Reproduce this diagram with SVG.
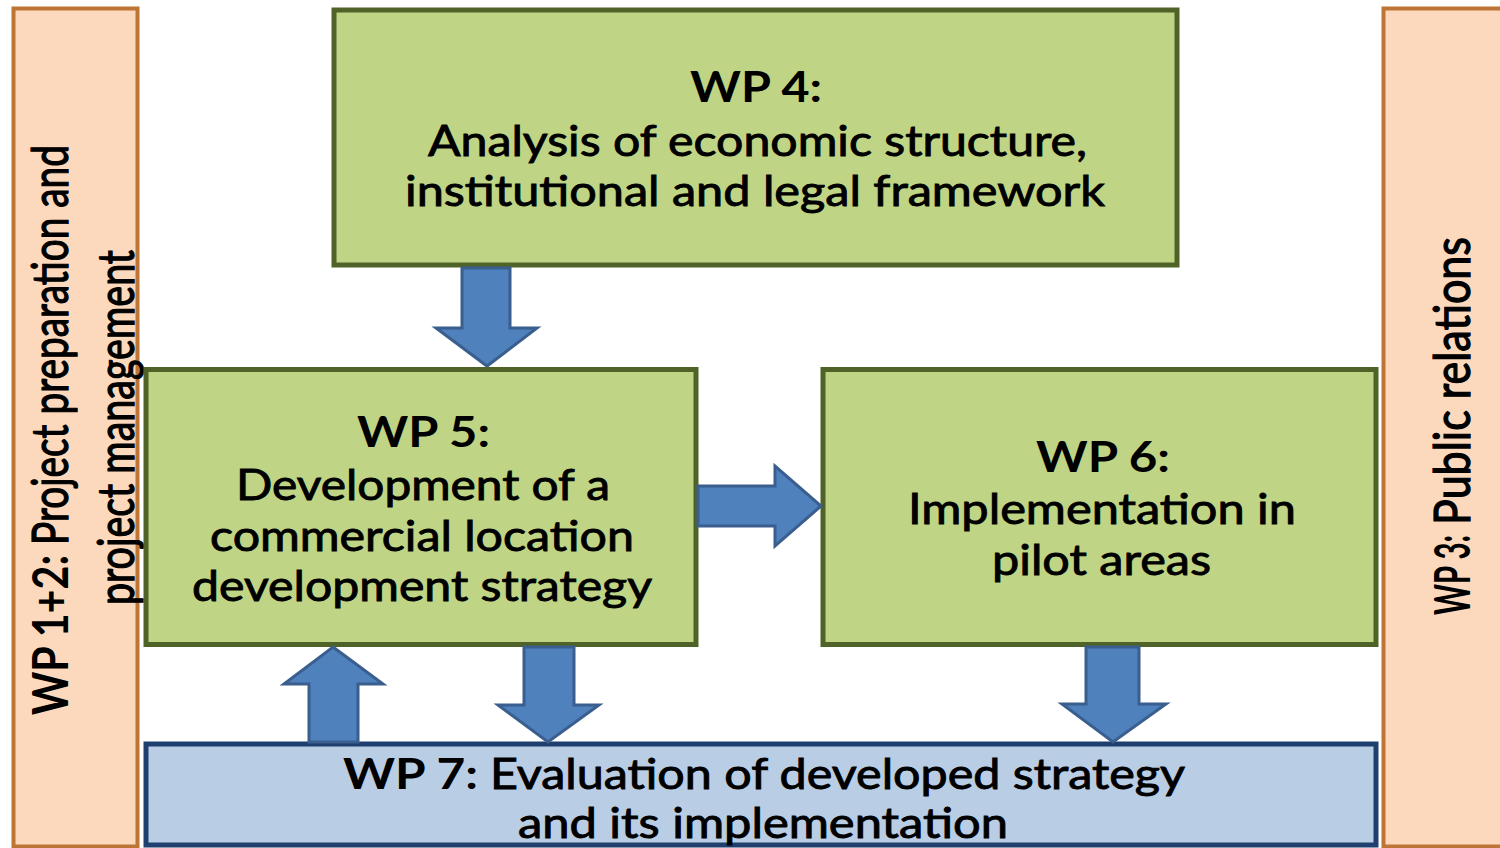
<svg xmlns="http://www.w3.org/2000/svg" width="1500" height="848" viewBox="0 0 1500 848">
  <style>
    .bar { fill: #fcd9bd; stroke: #bd7434; stroke-width: 4; }
    .green { fill: #bfd585; stroke: #4f6228; stroke-width: 5; }
    .blue { fill: #b9cde5; stroke: #1f3f6e; stroke-width: 5; }
    .arrow { fill: #4f81bd; stroke: #3a5f8f; stroke-width: 3; stroke-linejoin: miter; }
    .t { font-family: Lato, "Open Sans", "Liberation Sans", sans-serif; font-size: 42px; fill: #000; }
    .v { font-size: 36px; }
    .b { font-weight: bold; }
    .r { font-weight: normal; stroke: #000; stroke-width: 0.9; }
  </style>
  <rect width="1500" height="848" fill="#ffffff"/>

  <g id="wp12">
    <rect class="bar" x="13.5" y="8.5" width="124" height="838"/>
    <g transform="translate(68,848) scale(1.4,1) rotate(-90)">
      <text class="t v b" x="133" y="0" textLength="160" lengthAdjust="spacingAndGlyphs">WP 1+2:</text>
      <text class="t v r" x="303" y="0" textLength="400" lengthAdjust="spacingAndGlyphs">Project preparation and</text>
    </g>
    <g transform="translate(134,848) scale(1.4,1) rotate(-90)">
      <text class="t v r" x="243" y="0" textLength="355" lengthAdjust="spacingAndGlyphs">project management</text>
    </g>
  </g>

  <g id="wp3">
    <rect class="bar" x="1383.5" y="8.5" width="130" height="838"/>
    <g transform="translate(1470,848) scale(1.4,1) rotate(-90)">
      <text class="t v b" x="233" y="0" textLength="80" lengthAdjust="spacingAndGlyphs">WP 3:</text>
      <text class="t v r" x="323" y="0" textLength="288" lengthAdjust="spacingAndGlyphs">Public relations</text>
    </g>
  </g>

  <g id="wp4">
    <rect class="green" x="334" y="10" width="843" height="255"/>
    <text class="t b" x="690" y="102" textLength="132" lengthAdjust="spacingAndGlyphs">WP 4:</text>
    <text class="t r" x="428" y="156" textLength="659" lengthAdjust="spacingAndGlyphs">Analysis of economic structure,</text>
    <text class="t r" x="405" y="206" textLength="700" lengthAdjust="spacingAndGlyphs">institutional and legal framework</text>
  </g>

  <g id="wp5">
    <rect class="green" x="146" y="369.5" width="550" height="275"/>
    <text class="t b" x="357" y="447" textLength="133" lengthAdjust="spacingAndGlyphs">WP 5:</text>
    <text class="t r" x="236" y="500" textLength="374" lengthAdjust="spacingAndGlyphs">Development of a</text>
    <text class="t r" x="210" y="551" textLength="424" lengthAdjust="spacingAndGlyphs">commercial location</text>
    <text class="t r" x="192" y="601" textLength="460" lengthAdjust="spacingAndGlyphs">development strategy</text>
  </g>

  <g id="wp6">
    <rect class="green" x="823" y="369.5" width="553" height="275"/>
    <text class="t b" x="1036" y="472" textLength="134" lengthAdjust="spacingAndGlyphs">WP 6:</text>
    <text class="t r" x="908" y="524" textLength="388" lengthAdjust="spacingAndGlyphs">Implementation in</text>
    <text class="t r" x="992" y="575" textLength="219" lengthAdjust="spacingAndGlyphs">pilot areas</text>
  </g>

  <g id="wp7">
    <rect class="blue" x="146" y="744" width="1230" height="101"/>
    <text class="t b" x="343" y="789" textLength="135" lengthAdjust="spacingAndGlyphs">WP 7:</text>
    <text class="t r" x="490" y="789" textLength="695" lengthAdjust="spacingAndGlyphs">Evaluation of developed strategy</text>
    <text class="t r" x="518" y="838" textLength="490" lengthAdjust="spacingAndGlyphs">and its implementation</text>
  </g>

  <g id="connectors">
    <polygon class="arrow" points="462,268 510,268 510,328 537,328 487,366 436,328 462,328"/>
    <polygon class="arrow" points="698,486 775,486 775,466 821,506 775,546 775,526 698,526"/>
    <polygon class="arrow" points="333,647 383,684 358,684 358,742 309,742 309,684 284,684"/>
    <polygon class="arrow" points="524,647 574,647 574,705 599,705 548,742 498,705 524,705"/>
    <polygon class="arrow" points="1086,647 1139,647 1139,704 1166,704 1113,742 1062,704 1086,704"/>
  </g>
</svg>
